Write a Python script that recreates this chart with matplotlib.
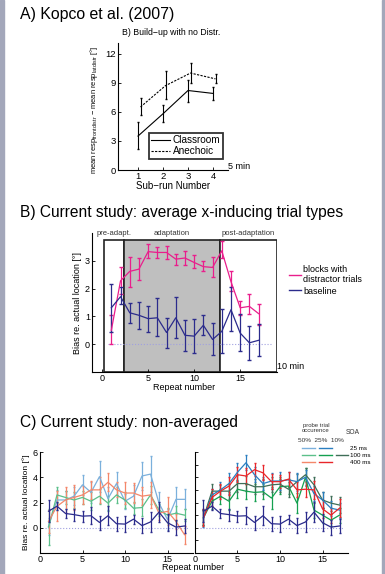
import matplotlib
matplotlib.use("Agg")
import matplotlib.pyplot as plt
from matplotlib.lines import Line2D
from matplotlib.patches import Rectangle
import numpy as np

plt.rcParams["font.family"] = ["Liberation Sans", "DejaVu Sans"]
plt.rcParams["mathtext.fontset"] = "custom"
plt.rcParams["mathtext.rm"] = "Liberation Sans"
plt.rcParams["axes.linewidth"] = 0.8

# ---- Panel A: Kopco et al. (2007) ----
subruns = [1, 2, 3, 4]
classroom = [3.5, 5.8, 8.2, 7.9]
classroom_lo = [2.2, 4.9, 7.0, 7.2]
classroom_hi = [4.9, 6.7, 9.3, 8.6]
anechoic = [6.5, 8.7, 10.0, 9.4]
anechoic_lo = [5.7, 7.3, 9.0, 9.0]
anechoic_hi = [7.4, 10.2, 11.0, 9.9]

# ---- Panel B: averaged ----
repeats = list(range(1, 18))
distr = [0.5, 2.28, 2.62, 2.7, 3.33, 3.3, 3.3, 3.06, 3.1, 2.94, 2.79, 2.76, 3.36, 2.25, 1.31, 1.36, 1.1]
distr_lo = [0.02, 1.8, 2.07, 2.32, 3.1, 3.1, 3.05, 2.85, 2.85, 2.75, 2.65, 2.4, 3.1, 1.9, 1.05, 1.1, 0.7]
distr_hi = [1.04, 2.76, 3.12, 3.1, 3.6, 3.5, 3.55, 3.25, 3.35, 3.2, 3.0, 3.15, 3.7, 2.65, 1.55, 1.8, 1.45]
base = [1.31, 1.71, 1.13, 1.04, 0.92, 0.95, 0.42, 0.95, 0.32, 0.29, 0.68, 0.17, 0.46, 1.24, 0.40, 0.05, 0.14]
base_lo = [0.44, 1.43, 0.76, 0.56, 0.44, 0.29, -0.15, 0.24, -0.24, -0.33, 0.32, -0.40, -0.31, 0.48, -0.24, -0.57, -0.43]
base_hi = [2.17, 2.07, 1.48, 1.52, 1.36, 1.67, 0.95, 1.69, 0.88, 0.92, 1.04, 0.76, 1.27, 2.07, 1.10, 0.64, 0.71]
phase_names = ["pre-adapt.", "adaptation", "post-adaptation"]
phase_edges = [0.25, 2.4, 12.8, 19.0]

# ---- Panel C: non-averaged ----
lblue_50_25 = [0.1, 2.2, 2.2, 2.5, 3.4, 2.8, 4.05, 2.3, 3.5, 2.1, 2.5, 4.1, 4.25, 1.95, 0.65, 2.25, 2.25]
lblue_err = [0.7, 0.8, 0.7, 0.7, 0.8, 0.8, 1.2, 0.9, 0.9, 0.6, 0.9, 1.1, 1.4, 0.9, 0.8, 1.0, 0.8]
lgreen_50_100 = [0.05, 2.6, 2.4, 2.2, 2.4, 2.1, 2.5, 1.95, 2.6, 2.2, 1.55, 1.6, 2.6, 1.4, 1.0, 1.15, 1.0]
lgreen_err = [1.45, 0.6, 0.5, 0.6, 0.5, 0.7, 0.6, 0.6, 0.6, 0.6, 0.5, 0.7, 0.7, 0.5, 0.6, 0.6, 0.5]
salmon_50_400 = [0.5, 1.7, 2.2, 2.4, 2.6, 3.0, 3.0, 3.6, 3.0, 2.75, 2.75, 2.5, 2.6, 1.15, 1.3, 0.5, -0.55]
salmon_err = [0.9, 1.2, 1.0, 1.0, 0.7, 0.7, 1.0, 0.7, 0.6, 0.9, 0.8, 0.7, 1.0, 0.5, 1.1, 0.6, 0.7]
blue_25_25 = [0.75, 2.6, 3.0, 3.5, 4.4, 5.15, 4.2, 3.5, 3.7, 3.7, 3.8, 3.65, 4.0, 2.7, 2.2, 1.55, 1.4]
blue_err = [0.7, 0.5, 0.6, 0.8, 0.7, 0.6, 0.6, 0.5, 0.6, 0.7, 0.6, 0.7, 0.6, 0.6, 0.6, 0.6, 0.6]
green_25_100 = [0.8, 2.1, 2.5, 2.1, 3.05, 2.9, 2.8, 2.85, 2.35, 3.25, 3.3, 1.95, 4.0, 1.4, 1.0, 0.6, 1.0]
green_err = [0.6, 0.6, 0.6, 0.7, 0.7, 0.6, 0.7, 0.6, 0.9, 0.6, 0.6, 0.8, 0.7, 0.6, 0.6, 0.5, 0.6]
dgreen_10_100 = [0.8, 2.9, 2.9, 2.9, 3.5, 3.5, 3.25, 3.25, 3.4, 3.45, 3.05, 3.65, 4.2, 3.4, 2.2, 1.95, 1.8]
dgreen_err = [0.6, 0.6, 0.5, 0.6, 0.7, 0.6, 0.6, 0.6, 0.6, 0.6, 0.6, 0.6, 0.5, 0.6, 0.6, 0.6, 0.6]
red_25_400 = [0.8, 2.4, 2.9, 3.3, 4.2, 4.1, 4.6, 4.35, 3.65, 3.65, 3.85, 3.0, 3.05, 3.0, 1.5, 1.0, 1.55]
red_err = [0.7, 0.7, 0.6, 0.7, 0.6, 0.6, 0.5, 0.6, 0.6, 0.5, 0.6, 0.6, 0.6, 0.7, 0.7, 0.6, 0.7]

MAGENTA = "#e91e8c"
NAVY = "#2b2b8c"
ZERO_COL = "#a0a0e0"

W, H = 385, 574
fig = plt.figure(figsize=(W / 100, H / 100), dpi=100)
fig.patch.set_facecolor("white")


def px_axes(x0, y0, x1, y1):
    """Axes from pixel box (top-left origin)."""
    return fig.add_axes([x0 / W, 1 - y1 / H, (x1 - x0) / W, (y1 - y0) / H])


def style(ax, fs=6):
    ax.spines["top"].set_visible(False)
    ax.spines["right"].set_visible(False)
    ax.tick_params(direction="in", length=2, width=0.6, labelsize=fs, pad=1.5)


def yerr(m, lo, hi):
    m, lo, hi = map(np.asarray, (m, lo, hi))
    return [m - lo, hi - m]


# slide side bars
fig.patches.append(Rectangle((0, 0), 3.5 / W, 1, transform=fig.transFigure, color="#a3a7ba", zorder=0))
fig.patches.append(Rectangle((382 / W, 0), 3 / W, 1, transform=fig.transFigure, color="#a3a7ba", zorder=0))

# ---------------- Panel A ----------------
fig.text(20 / W, 1 - 15 / H, "A) Kopco et al. (2007)", fontsize=11.4, va="center")
axA = px_axes(118, 43, 228, 170)
style(axA, 6.8)
axA.errorbar(subruns, classroom, yerr=yerr(classroom, classroom_lo, classroom_hi),
             color="black", lw=0.8, elinewidth=0.8, capsize=1, label="Classroom")
axA.errorbar(np.array(subruns) + 0.1, anechoic, yerr=yerr(anechoic, anechoic_lo, anechoic_hi),
             color="black", lw=0.8, ls=(0, (2, 1.2)), elinewidth=0.8, capsize=1, label="Anechoic")
axA.set_xlim(0.2, 4.6)
axA.set_ylim(0, 13.1)
axA.set_xticks(subruns)
axA.set_yticks([0, 3, 6, 9, 12])
axA.set_xlabel("Sub\u2212run Number", fontsize=7, labelpad=0)
axA.set_ylabel("mean resp$_{\\mathrm{front\\,distr}}$ \u2212 mean resp$_{\\mathrm{lat\\,distr}}$ [°]",
               fontsize=5.4)
axA.yaxis.set_label_coords(-0.165, 0.47)
axA.text(0.04, 1.08, "B) Build\u2212up with no Distr.", transform=axA.transAxes, fontsize=6.3, va="center")
h_cl = Line2D([], [], color="black", lw=0.8)
h_an = Line2D([], [], color="black", lw=0.8, ls=(0, (2, 1.2)))
legA = axA.legend([h_cl, h_an], ["Classroom", "Anechoic"], loc="lower right",
                  bbox_to_anchor=(1.0, 0.05), fontsize=7.2, frameon=True, fancybox=False,
                  borderpad=0.25, handlelength=1.9, handletextpad=0.25, labelspacing=0.1)
legA.get_frame().set_edgecolor("black")
legA.get_frame().set_linewidth(1.3)
axA.text(1.0, 0.03, "5 min", transform=axA.transAxes, fontsize=6.5, va="center", ha="left")

# ---------------- Panel B ----------------
fig.text(20 / W, 1 - 212 / H, "B) Current study: average x-inducing trial types", fontsize=11.2, va="center")
axB = px_axes(92, 233, 277, 372)
style(axB, 6.5)
axB.set_xlim(-1.1, 19.0)
axB.set_ylim(-1.0, 4.0)
fills = ["white", "#bfbfbf", "white"]
for i, name in enumerate(phase_names):
    x0, x1 = phase_edges[i], phase_edges[i + 1]
    axB.add_patch(Rectangle((x0, -1.0), x1 - x0, 4.75, facecolor=fills[i], edgecolor="#222222",
                            lw=1.2, zorder=0))
    axB.text((x0 + x1) / 2, 3.98, name, fontsize=5.5, ha="center", va="center", color="#333333")
axB.plot([0.6, 18.4], [0, 0], ls=":", color=ZERO_COL, lw=0.8, zorder=1)
axB.errorbar(repeats, distr, yerr=yerr(distr, distr_lo, distr_hi), color=MAGENTA, lw=0.9,
             elinewidth=0.9, capsize=1.3, zorder=3)
axB.errorbar(repeats, base, yerr=yerr(base, base_lo, base_hi), color=NAVY, lw=0.9,
             elinewidth=0.9, capsize=1.3, zorder=3)
axB.set_xticks([0, 5, 10, 15])
axB.set_yticks([0, 1, 2, 3])
axB.set_xlabel("Repeat number", fontsize=6.5, labelpad=0)
axB.set_ylabel("Bias re. actual location [°]", fontsize=6.5, labelpad=2)
axB.text(1.0, 0.04, "10 min", transform=axB.transAxes, fontsize=6.5, va="center", ha="left")
hB = [Line2D([], [], color=MAGENTA, lw=1.0), Line2D([], [], color=NAVY, lw=1.0)]
axB.legend(hB, ["blocks with\ndistractor trials", "baseline"], loc="upper left",
           bbox_to_anchor=(284 / W, 1 - 260 / H), bbox_transform=fig.transFigure,
           fontsize=6.5, frameon=False, handlelength=1.4, handletextpad=0.2,
           labelspacing=0.3, borderpad=0)

# ---------------- Panel C ----------------
fig.text(20 / W, 1 - 423 / H, "C) Current study: non-averaged", fontsize=11.2, va="center")
axC1 = px_axes(40, 452, 193, 553)
axC2 = px_axes(195, 452, 348, 553)
left_series = [(lblue_50_25, lblue_err, "#7bb0dc"), (lgreen_50_100, lgreen_err, "#5cc08a"),
               (salmon_50_400, salmon_err, "#f4876a")]
right_series = [(green_25_100, green_err, "#14a050"), (dgreen_10_100, dgreen_err, "#3f6e58"),
                (blue_25_25, blue_err, "#2a7ec0"), (red_25_400, red_err, "#e8262a")]
for ax, series in [(axC1, left_series), (axC2, right_series)]:
    style(ax, 6.5)
    ax.set_xlim(0, 18)
    ax.set_ylim(-2, 6)
    ax.plot([0.6, 17.4], [0, 0], ls=":", color=ZERO_COL, lw=0.8, zorder=1)
    ax.errorbar(repeats, base, yerr=yerr(base, base_lo, base_hi), color=NAVY, lw=0.9,
                elinewidth=0.9, capsize=1.0, zorder=4)
    for vals, err, col in series:
        ax.errorbar(repeats, vals, yerr=err, color=col, lw=0.9, elinewidth=0.9, capsize=1.0, zorder=3)
    ax.set_xticks([0, 5, 10, 15])
axC1.set_yticks([0, 2, 4, 6])
axC1.set_ylabel("Bias re. actual location [°]", fontsize=6, labelpad=2)
axC2.set_yticks(range(-2, 7))
axC2.set_yticklabels([])
fig.text(193 / W, 1 - 568 / H, "Repeat number", fontsize=6.5, ha="center", va="center")

# legend of panel C
none = Line2D([], [], color="none")
hC = [Line2D([], [], color="#7bb0dc", lw=1), Line2D([], [], color="#5cc08a", lw=1),
      Line2D([], [], color="#f4876a", lw=1),
      Line2D([], [], color="#2a7ec0", lw=1), Line2D([], [], color="#14a050", lw=1),
      Line2D([], [], color="#e8262a", lw=1),
      none, Line2D([], [], color="#3f6e58", lw=1), none]
lC = ["", "", "", "", "", "", "25 ms", "100 ms", "400 ms"]
legC = axC2.legend(hC, lC, ncol=3, loc="upper left", bbox_to_anchor=(299 / W, 1 - 443 / H),
                   bbox_transform=fig.transFigure, fontsize=4.5, frameon=False,
                   handlelength=2.0, handletextpad=0.3, columnspacing=0.4,
                   labelspacing=0.25, borderpad=0)
fig.text(316 / W, 1 - 428 / H, "probe trial\noccurence", fontsize=4.3, ha="center", va="center",
         color="#333333", linespacing=1.1)
fig.text(353 / W, 1 - 433 / H, "SOA", fontsize=4.8, ha="center", va="center", color="#333333")
fig.text(321 / W, 1 - 441 / H, "50%  25%  10%", fontsize=4.6, ha="center", va="center", color="#333333")

fig.savefig("out.png", dpi=100, facecolor="white")
